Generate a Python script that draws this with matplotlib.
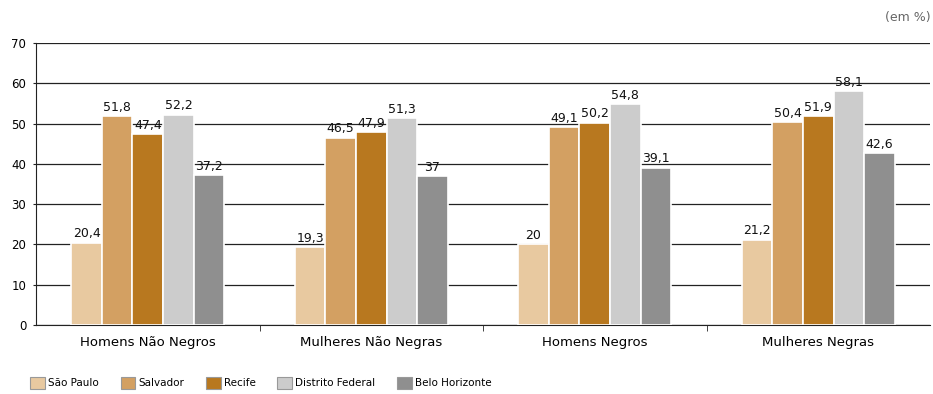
import matplotlib.pyplot as plt
import numpy as np

# Dados (em %)
grupos = ["Homens Não Negros", "Mulheres Não Negras", "Homens Negros", "Mulheres Negras"]
regioes = ["São Paulo", "Salvador", "Recife", "Distrito Federal", "Belo Horizonte"]
sao_paulo = [20.4, 19.3, 20.0, 21.2]
salvador = [51.8, 46.5, 49.1, 50.4]
recife = [47.4, 47.9, 50.2, 51.9]
distrito_federal = [52.2, 51.3, 54.8, 58.1]
belo_horizonte = [37.2, 37.0, 39.1, 42.6]
yticks = [0, 10, 20, 30, 40, 50, 60, 70]

series = [sao_paulo, salvador, recife, distrito_federal, belo_horizonte]
cores = ["#E8C9A0", "#D3A062", "#B8781F", "#CCCCCC", "#8F8F8F"]


def fmt(v):
    if float(v).is_integer():
        return str(int(v))
    return f"{v:.1f}".replace(".", ",")


fig = plt.figure(figsize=(9.33, 3.94), dpi=100)
ax = fig.add_axes([0.0386, 0.175, 0.9582, 0.7157])

x = np.arange(len(grupos))
largura = 0.137
for i, (vals, cor, nome) in enumerate(zip(series, cores, regioes)):
    pos = x + (i - 2) * largura
    ax.bar(pos, vals, width=largura, color=cor, edgecolor="white",
           linewidth=1.2, label=nome, zorder=3)
    for px, v in zip(pos, vals):
        ax.text(px, v + 0.6, fmt(v), ha="center", va="bottom",
                fontsize=9, color="#111111", zorder=4)

ax.set_xlim(-0.5, len(grupos) - 0.5)
ax.set_ylim(0, 70)
ax.set_yticks(yticks)
ax.set_yticklabels([str(t) for t in yticks], fontsize=8.5)
ax.yaxis.grid(True, color="#222222", linewidth=0.9, zorder=0)
ax.set_axisbelow(True)

ax.set_xticks(x)
ax.set_xticklabels(grupos, fontsize=9.5)
ax.tick_params(axis="x", length=0, pad=8)
ax.set_xticks(np.arange(0.5, len(grupos) - 0.5), minor=True)
ax.tick_params(axis="x", which="minor", length=4, direction="out", color="#222222")
ax.tick_params(axis="y", length=2.5, color="#222222", pad=4.5)

for lado in ["top", "right"]:
    ax.spines[lado].set_visible(False)
ax.spines["left"].set_color("#222222")
ax.spines["bottom"].set_color("#222222")

fig.text(0.997, 0.955, "(em %)", ha="right", va="center", fontsize=9, color="#666666")

leg = ax.legend(loc="upper left", bbox_to_anchor=(-0.017, -0.15), ncol=5,
                frameon=False, handlelength=1.4, handleheight=1.4,
                columnspacing=2.1, handletextpad=0.3, fontsize=7.5)
for h in leg.legend_handles:
    h.set_edgecolor("#999999")
    h.set_linewidth(0.8)

fig.savefig("out.png", dpi=100)
